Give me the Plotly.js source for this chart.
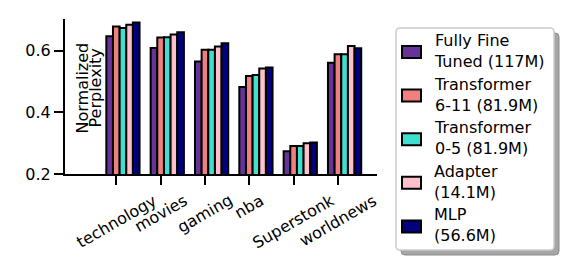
<!DOCTYPE html>
<html>
<head>
<meta charset="utf-8">
<script src="https://cdn.plot.ly/plotly-3.0.1.min.js"></script>
<style>html,body{margin:0;padding:0;background:#fff;}#chart{width:574px;height:275px;}</style>
</head>
<body>
<div id="chart"></div>
<script>
// ---- data ----
const categories = ['technology', 'movies', 'gaming', 'nba', 'Superstonk', 'worldnews'];
const seriesNames = ['Fully Fine<br>Tuned (117M)', 'Transformer<br>6-11 (81.9M)', 'Transformer<br>0-5 (81.9M)', 'Adapter<br>(14.1M)', 'MLP<br>(56.6M)'];
const fullyFineTuned = [0.647, 0.609, 0.565, 0.482, 0.274, 0.561];
const transformer611 = [0.679, 0.643, 0.603, 0.518, 0.291, 0.589];
const transformer05  = [0.674, 0.644, 0.603, 0.521, 0.291, 0.589];
const adapter        = [0.684, 0.653, 0.614, 0.542, 0.300, 0.615];
const mlp            = [0.692, 0.660, 0.624, 0.546, 0.302, 0.608];
const yTickVals = [0.2, 0.4, 0.6];
const yTickText = ['0.2', '0.4', '0.6'];
const colors = ['#663399', '#F08080', '#40E0D0', '#FFC0CB', '#000080'];

const allSeries = [fullyFineTuned, transformer611, transformer05, adapter, mlp];

// ---- layout geometry ----
const W = 574, H = 275;
const M = {l: 65, r: 197, t: 19, b: 101};
const PW = W - M.l - M.r, PH = H - M.t - M.b;
const px = X => (X - M.l) / PW;
const py = Y => (H - M.b - Y) / PH;
const BW = 0.15;
const FONT = 'DejaVu Sans, Liberation Sans, sans-serif';

const traces = allSeries.map((vals, j) => ({
  type: 'bar',
  x: categories.map((_, i) => i + (j - 1) * BW),
  y: vals,
  width: BW,
  name: seriesNames[j],
  marker: {color: colors[j], line: {color: '#000', width: 2}},
  showlegend: false,
  hoverinfo: 'skip'
}));

// x tick labels as rotated annotations
const annotations = categories.map((c, i) => ({
  text: c, xref: 'x', yref: 'paper', x: i, y: py(188),
  xanchor: 'center', yanchor: 'top', textangle: -30, showarrow: false,
  font: {family: FONT, size: 16, color: '#000'}
}));

// y title (two tight lines)
annotations.push({text: 'Normalized', xref: 'paper', yref: 'paper', x: px(82), y: py(88.5),
  xanchor: 'center', yanchor: 'middle', textangle: -90, showarrow: false,
  font: {family: FONT, size: 16, color: '#000'}});
annotations.push({text: 'Perplexity', xref: 'paper', yref: 'paper', x: px(95), y: py(88.5),
  xanchor: 'center', yanchor: 'middle', textangle: -90, showarrow: false,
  font: {family: FONT, size: 16, color: '#000'}});

// legend
function roundRect(X0, Y0, X1, Y1, r) {
  const P = (X, Y) => px(X) + ',' + py(Y);
  return 'M' + P(X0 + r, Y0) + ' L' + P(X1 - r, Y0) + ' Q' + P(X1, Y0) + ' ' + P(X1, Y0 + r) +
    ' L' + P(X1, Y1 - r) + ' Q' + P(X1, Y1) + ' ' + P(X1 - r, Y1) +
    ' L' + P(X0 + r, Y1) + ' Q' + P(X0, Y1) + ' ' + P(X0, Y1 - r) +
    ' L' + P(X0, Y0 + r) + ' Q' + P(X0, Y0) + ' ' + P(X0 + r, Y0) + ' Z';
}
const shapes = [];
const LB = {x0: 396, y0: 28, x1: 554, y1: 250};
shapes.push({type: 'path', xref: 'paper', yref: 'paper', path: roundRect(LB.x0 + 5, LB.y0 + 5, LB.x1 + 5, LB.y1 + 5, 4),
  fillcolor: '#a6a6a6', line: {color: '#8a8a8a', width: 1}});
shapes.push({type: 'path', xref: 'paper', yref: 'paper', path: roundRect(LB.x0, LB.y0, LB.x1, LB.y1, 4),
  fillcolor: '#ffffff', line: {color: '#cccccc', width: 1.5}});
seriesNames.forEach((n, j) => {
  const cy = 52 + j * 43.6;
  shapes.push({type: 'rect', xref: 'paper', yref: 'paper', x0: px(402), x1: px(421), y0: py(cy + 6), y1: py(cy - 6),
    fillcolor: colors[j], line: {color: '#000', width: 2}});
  annotations.push({text: n, xref: 'paper', yref: 'paper', x: px(432), y: py(cy - 1), xanchor: 'left', yanchor: 'middle',
    align: 'left', showarrow: false, font: {family: FONT, size: 16, color: '#000'}});
});

const layout = {
  width: W, height: H,
  margin: {l: M.l, r: M.r, t: M.t, b: M.b, pad: 0},
  paper_bgcolor: '#fff', plot_bgcolor: '#fff',
  font: {family: FONT, size: 16, color: '#000'},
  barmode: 'overlay',
  xaxis: {range: [-1.157, 5.881], showgrid: false, zeroline: false, showline: true, linecolor: '#000', linewidth: 2,
    ticks: 'outside', ticklen: 9, tickwidth: 2, tickcolor: '#000', tickmode: 'array',
    tickvals: categories.map((_, i) => i), showticklabels: false, fixedrange: true},
  yaxis: {range: [0.2, 0.703], showgrid: false, zeroline: false, showline: true, linecolor: '#000', linewidth: 2,
    ticks: 'outside', ticklen: 9, tickwidth: 2, tickcolor: '#000', tickmode: 'array',
    tickvals: yTickVals, ticktext: yTickText, tickfont: {family: FONT, size: 16, color: '#000'}, fixedrange: true},
  annotations: annotations,
  shapes: shapes
};

Plotly.newPlot('chart', traces, layout, {displayModeBar: false, staticPlot: true});
</script>
</body>
</html>
